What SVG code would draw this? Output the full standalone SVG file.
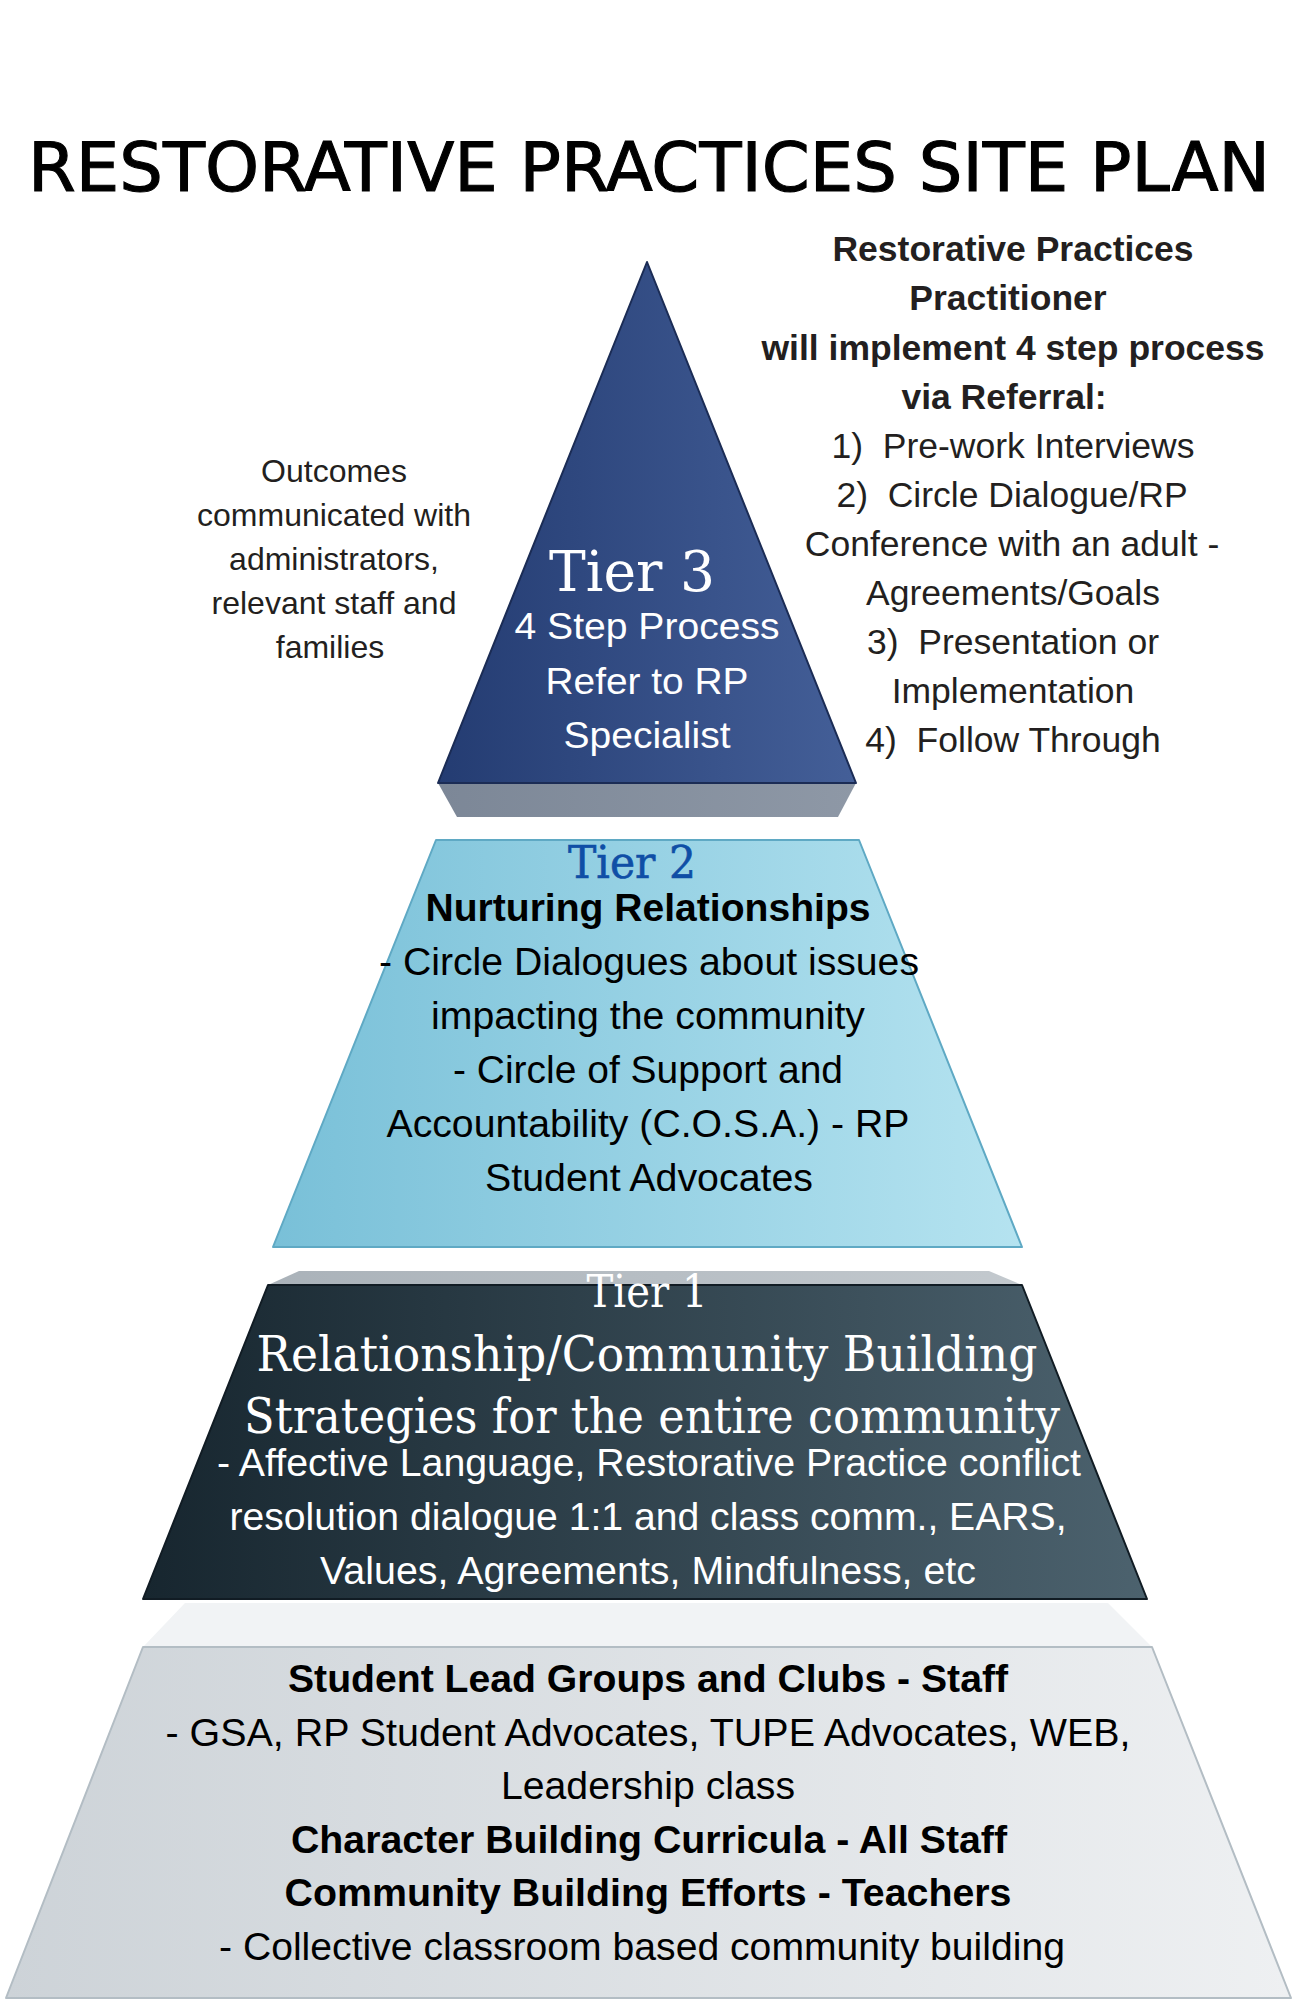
<svg xmlns="http://www.w3.org/2000/svg" width="1294" height="2000" viewBox="0 0 1294 2000">
<defs>
<linearGradient id="gNavy" x1="0" y1="0" x2="1" y2="0"><stop offset="0" stop-color="#243c72"/><stop offset="1" stop-color="#445f98"/></linearGradient>
<linearGradient id="gBand3" x1="0" y1="0" x2="1" y2="0"><stop offset="0" stop-color="#7c8797"/><stop offset="1" stop-color="#8e98a6"/></linearGradient>
<linearGradient id="gBlue" x1="0" y1="0" x2="1" y2="0"><stop offset="0" stop-color="#79c0d8"/><stop offset="1" stop-color="#b5e3f0"/></linearGradient>
<linearGradient id="gSlate" x1="0" y1="0" x2="1" y2="0"><stop offset="0" stop-color="#17262f"/><stop offset="1" stop-color="#4c626e"/></linearGradient>
<linearGradient id="gBevel1" x1="0" y1="0" x2="1" y2="0"><stop offset="0" stop-color="#aab2b9"/><stop offset="1" stop-color="#c3c9ce"/></linearGradient>
<linearGradient id="gGray" x1="0" y1="0" x2="1" y2="0"><stop offset="0" stop-color="#cdd3d8"/><stop offset="1" stop-color="#eef0f2"/></linearGradient>
</defs>
<style>
.sans{font-family:"Liberation Sans",Arial,sans-serif;text-anchor:middle}
.b{font-weight:bold}
.serif{font-family:"DejaVu Serif","Liberation Serif",serif;text-anchor:middle}
.dark{fill:#231f20}
.white{fill:#ffffff}
.blk{fill:#000000}
</style>
<rect width="1294" height="2000" fill="#ffffff"/>
<g id="title">
<text x="649" y="191" font-family="DejaVu Sans Condensed,DejaVu Sans,sans-serif" font-size="68" text-anchor="middle" textLength="1242" lengthAdjust="spacingAndGlyphs" fill="#000" stroke="#000" stroke-width="1">RESTORATIVE PRACTICES SITE PLAN</text>
</g>
<g id="connectors"/>
<g id="tier3">
<polygon points="438,783 856,783 838,817 457,817" fill="url(#gBand3)"/>
<polygon points="647,262 856,783 438,783" fill="url(#gNavy)" stroke="#1b2c55" stroke-width="2" stroke-linejoin="round"/>
<text class="serif white" x="632" y="591" font-size="56" textLength="166" lengthAdjust="spacingAndGlyphs">Tier 3</text>
<text class="sans white" x="647" y="639" font-size="37" textLength="265" lengthAdjust="spacingAndGlyphs">4 Step Process</text>
<text class="sans white" x="647" y="694" font-size="37" textLength="203" lengthAdjust="spacingAndGlyphs">Refer to RP</text>
<text class="sans white" x="647" y="748" font-size="37" textLength="167" lengthAdjust="spacingAndGlyphs">Specialist</text>
</g>
<g id="outcomes-note">
<text class="sans dark" font-size="32"><tspan x="334" y="482">Outcomes</tspan><tspan x="334" y="526">communicated with</tspan><tspan x="334" y="570">administrators,</tspan><tspan x="334" y="614">relevant staff and</tspan><tspan x="330" y="658">families</tspan></text>
</g>
<g id="practitioner-note">
<text class="sans b dark" font-size="35.5"><tspan x="1013" y="261">Restorative Practices</tspan><tspan x="1008" y="310">Practitioner</tspan><tspan x="1013" y="360">will implement 4 step process</tspan><tspan x="1004" y="409">via Referral:</tspan></text>
<text class="sans dark" font-size="35.5"><tspan x="1013" y="458">1)&#160; Pre-work Interviews</tspan><tspan x="1012" y="507">2)&#160; Circle Dialogue/RP</tspan><tspan x="1012" y="556">Conference with an adult -</tspan><tspan x="1013" y="605">Agreements/Goals</tspan><tspan x="1013" y="654">3)&#160; Presentation or</tspan><tspan x="1013" y="703">Implementation</tspan><tspan x="1013" y="752">4)&#160; Follow Through</tspan></text>
</g>
<g id="tier2">
<polygon points="436,840 859,840 1022,1247 273,1247" fill="url(#gBlue)" stroke="#5fa9c4" stroke-width="2" stroke-linejoin="round"/>
<text class="serif" x="632" y="878" font-size="44" fill="#0f4ea6" stroke="#0f4ea6" stroke-width="0.6" textLength="128" lengthAdjust="spacingAndGlyphs">Tier 2</text>
<text class="sans b blk" x="648" y="921" font-size="38" textLength="445" lengthAdjust="spacingAndGlyphs">Nurturing Relationships</text>
<text class="sans blk" x="649" y="975" font-size="38" textLength="540" lengthAdjust="spacingAndGlyphs">- Circle Dialogues about issues</text>
<text class="sans blk" x="648" y="1029" font-size="38" textLength="434" lengthAdjust="spacingAndGlyphs">impacting the community</text>
<text class="sans blk" x="648" y="1083" font-size="38" textLength="390" lengthAdjust="spacingAndGlyphs">- Circle of Support and</text>
<text class="sans blk" x="648" y="1137" font-size="38" textLength="523" lengthAdjust="spacingAndGlyphs">Accountability (C.O.S.A.) - RP</text>
<text class="sans blk" x="649" y="1191" font-size="38" textLength="328" lengthAdjust="spacingAndGlyphs">Student Advocates</text>
</g>
<g id="tier1">
<polygon points="299,1271 989,1271 1022,1285 268,1285" fill="url(#gBevel1)"/>
<polygon points="268,1285 1022,1285 1147,1599 143,1599" fill="url(#gSlate)" stroke="#111c24" stroke-width="2" stroke-linejoin="round"/>
<text class="serif white" x="647" y="1307" font-size="44" textLength="121" lengthAdjust="spacingAndGlyphs">Tier 1</text>
<text class="serif white" x="647" y="1371" font-size="48" textLength="781" lengthAdjust="spacingAndGlyphs">Relationship/Community Building</text>
<text class="serif white" x="652" y="1433" font-size="48" textLength="816" lengthAdjust="spacingAndGlyphs">Strategies for the entire community</text>
<text class="sans white" x="649" y="1476" font-size="38" textLength="864" lengthAdjust="spacingAndGlyphs">- Affective Language, Restorative Practice conflict</text>
<text class="sans white" x="648" y="1530" font-size="38" textLength="837" lengthAdjust="spacingAndGlyphs">resolution dialogue 1:1 and class comm., EARS,</text>
<text class="sans white" x="648" y="1584" font-size="38" textLength="656" lengthAdjust="spacingAndGlyphs">Values, Agreements, Mindfulness, etc</text>
</g>
<g id="foundation">
<polygon points="185,1603 1108,1603 1152,1647 143,1647" fill="#f1f3f5"/>
<polygon points="143,1647 1152,1647 1291,1998 6,1998" fill="url(#gGray)" stroke="#b3bdc4" stroke-width="2" stroke-linejoin="round"/>
<text class="sans b blk" x="648" y="1692" font-size="38" textLength="720" lengthAdjust="spacingAndGlyphs">Student Lead Groups and Clubs - Staff</text>
<text class="sans blk" x="648" y="1746" font-size="38" textLength="965" lengthAdjust="spacingAndGlyphs">- GSA, RP Student Advocates, TUPE Advocates, WEB,</text>
<text class="sans blk" x="648" y="1799" font-size="38" textLength="294" lengthAdjust="spacingAndGlyphs">Leadership class</text>
<text class="sans b blk" x="649" y="1853" font-size="38" textLength="716" lengthAdjust="spacingAndGlyphs">Character Building Curricula - All Staff</text>
<text class="sans b blk" x="648" y="1906" font-size="38" textLength="727" lengthAdjust="spacingAndGlyphs">Community Building Efforts - Teachers</text>
<text class="sans blk" x="642" y="1960" font-size="38" textLength="846" lengthAdjust="spacingAndGlyphs">- Collective classroom based community building</text>
</g>
</svg>
